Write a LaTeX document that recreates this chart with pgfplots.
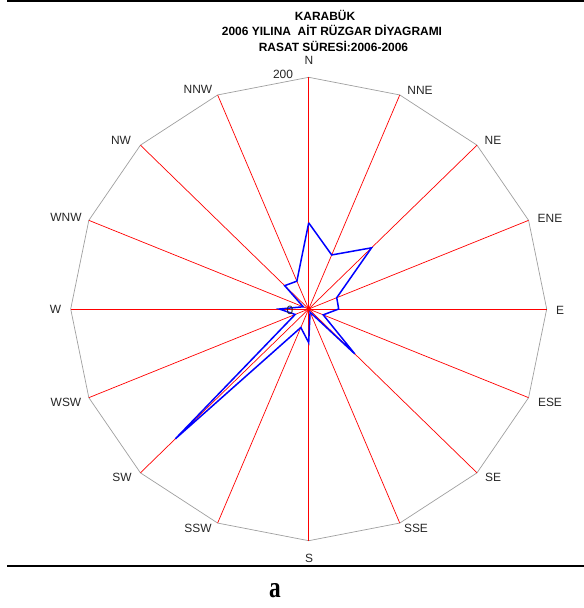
\documentclass[border=0pt]{standalone}
\usepackage{pgfplots}
\pgfplotsset{compat=1.18}
\usepackage{pgfplotstable}
\usepackage{fontspec}
\setmainfont{Liberation Sans}
\newfontfamily\serifb{Liberation Serif}

% wind rose values, angle measured clockwise from North
\pgfplotstableread{
ang r
0 74.4
22.5 50.5
45 74.7
67.5 25.5
90 25.2
112.5 13.2
135 54.8
157.5 3
180 29
202.5 17.3
225 158.5
247.5 12.3
270 24.7
292.5 5
315 28.5
337.5 26
360 74.4
}\wind

% outer ring (scale maximum 200)
\pgfplotstableread{
ang r
0 200
22.5 200
45 200
67.5 200
90 200
112.5 200
135 200
157.5 200
180 200
202.5 200
225 200
247.5 200
270 200
292.5 200
315 200
337.5 200
360 200
}\dirs

\begin{document}
\begin{tikzpicture}
\useasboundingbox (0,0) rectangle (584bp,-608bp);
\begin{axis}[at={(308.7bp,-309bp)}, anchor=origin, scale only axis,
  width=476bp, height=463.4bp, xmin=-200, xmax=200, ymin=-200, ymax=200,
  hide axis, clip=false]
\addplot[color=gray!75, line width=0.7bp, sharp plot, mark=none]
  table[x expr={\thisrow{r}*sin(\thisrow{ang})}, y expr={\thisrow{r}*cos(\thisrow{ang})}] {\dirs};
\pgfplotsinvokeforeach{0,...,15}{
  \draw[red, line width=0.7bp] (axis cs:0,0) -- (axis cs:{200*sin(#1*22.5)},{200*cos(#1*22.5)});
}
\fill[red] (axis cs:0,0) circle (2.2bp);
\addplot[color=blue, line width=1.5bp, sharp plot, mark=none]
  table[x expr={\thisrow{r}*sin(\thisrow{ang})}, y expr={\thisrow{r}*cos(\thisrow{ang})}] {\wind};
\end{axis}
\begin{scope}[x=1bp, y=-1bp]
\draw[line width=1.3bp] (7,1) -- (584,1);
\draw[line width=1.3bp] (7,566) -- (584,566);
\node[font=\bfseries\fontsize{12}{14}\selectfont] at (325,15) {KARABÜK};
\node[font=\bfseries\fontsize{12}{14}\selectfont] at (332,30) {2006 YILINA~ AİT RÜZGAR DİYAGRAMI};
\node[font=\bfseries\fontsize{12}{14}\selectfont] at (333.5,46) {RASAT SÜRESİ:2006-2006};
\begin{scope}[every node/.style={font=\fontsize{12}{14}\selectfont, text=black!85, inner sep=0pt}]
\node at (309,60) {N};
\node at (420,90) {NNE};
\node at (493,140) {NE};
\node at (550,218) {ENE};
\node at (560,310) {E};
\node at (550,402) {ESE};
\node at (493,477) {SE};
\node at (416,528) {SSE};
\node at (309,558) {S};
\node at (198,528) {SSW};
\node at (122,477) {SW};
\node at (66,402) {WSW};
\node at (55.5,309) {W};
\node at (66,217) {WNW};
\node at (121,140) {NW};
\node at (198,89) {NNW};
\node at (283,74) {200};
\node at (290,310) {0};
\end{scope}
\node[font=\serifb\bfseries\fontsize{30}{34}\selectfont, inner sep=0pt, xscale=0.78] at (275,591) {a};
\end{scope}
\end{tikzpicture}
\end{document}
